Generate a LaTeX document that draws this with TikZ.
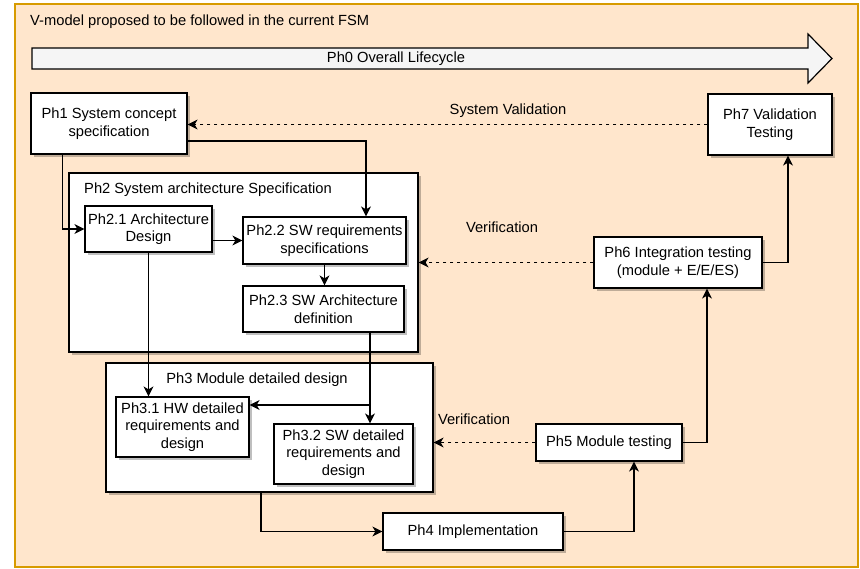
\documentclass[tikz,border=0pt]{standalone}
\usepackage{fontspec}
\setmainfont{Liberation Sans}
\usetikzlibrary{arrows.meta,shadows,calc}
\definecolor{framefill}{HTML}{FFE6CC}
\definecolor{frameline}{HTML}{D79B00}
\definecolor{lifefill}{HTML}{F5F5F5}
\tikzset{
  txt/.style={font=\fontsize{14.7}{17.6}\selectfont, align=center, inner sep=0pt},
  box/.style={txt, draw=black, fill=white, line width=1.2pt,
    drop shadow={shadow xshift=2.5pt, shadow yshift=-2.5pt, opacity=0.25, fill=black}},
  group/.style={box},
  arr/.style={draw=black, line width=1.2pt, -{Stealth[length=10pt, width=10pt, inset=3pt]}},
  darr/.style={arr, dash pattern=on 3.5pt off 3.5pt},
}
\begin{document}
\begin{tikzpicture}[x=1pt, y=-1pt]
\useasboundingbox (0,0) rectangle (860,568);

% outer frame
\draw[fill=framefill, draw=frameline, line width=1.2pt] (15,4) rectangle (858,567);
\node[txt, anchor=west] (title) at (30,22) {V-model proposed to be followed in the current FSM};

% overall lifecycle arrow
\draw[fill=lifefill, draw=black, line width=1.2pt, line join=miter]
  (32,48) -- (808,48) -- (808,34) -- (832,58.5) -- (808,83) -- (808,69) -- (32,69) -- cycle;
\node[txt] (ph0) at (396,58.5) {Ph0 Overall Lifecycle};

% containers
\node[group, minimum width=349pt, minimum height=179pt] (ph2) at (243.5,262.5) {};
\node[txt, anchor=west] (ph2t) at (84,190) {Ph2 System architecture Specification};
\node[group, minimum width=327pt, minimum height=129pt] (ph3) at (269.5,427.5) {};
\node[txt] (ph3t) at (257,380) {Ph3 Module detailed design};

% phase boxes
\node[box, minimum width=156pt, minimum height=61pt] (ph1) at (109,123.5) {Ph1 System concept\\specification};
\node[box, minimum width=124pt, minimum height=61pt] (ph7) at (770,124.5) {Ph7 Validation\\Testing};
\node[box, minimum width=127pt, minimum height=46pt] (ph21) at (148.5,229) {Ph2.1 Architecture\\Design};
\node[box, minimum width=163pt, minimum height=47pt] (ph22) at (324.5,240.5) {Ph2.2 SW requirements\\specifications};
\node[box, minimum width=161pt, minimum height=46pt] (ph23) at (323.5,309) {Ph2.3 SW Architecture\\definition};
\node[box, minimum width=168pt, minimum height=51pt] (ph6) at (678,262.5) {Ph6 Integration testing\\(module + E/E/ES)};
\node[box, minimum width=133pt, minimum height=60pt] (ph31) at (182.5,427) {Ph3.1 HW detailed\\requirements and\\design};
\node[box, minimum width=139pt, minimum height=60pt] (ph32) at (343.5,454) {Ph3.2 SW detailed\\requirements and\\design};
\node[box, minimum width=146pt, minimum height=37pt] (ph5) at (609,442.5) {Ph5 Module testing};
\node[box, minimum width=180pt, minimum height=37pt] (ph4) at (473,531.5) {Ph4 Implementation};

% design flow
\draw[arr] ($(ph1.south west)!0.205!(ph1.south east)$) |- (ph21.west);
\draw[arr] ([yshift=-17.5pt]ph1.east) -| ([xshift=41.5pt]ph22.north);
\draw[arr] (ph21.east |- ph22.west) -- (ph22.west);
\draw[arr] (ph22.south) -- (ph22.south |- ph23.north);
\draw[arr] (ph21.south) -- (ph21.south |- ph31.north);
\path ([xshift=46.5pt]ph23.south) coordinate (b23);
\path ([yshift=22pt]ph31.east) coordinate (t31);
\draw[arr] (b23) -- (b23 |- ph32.north);
\draw[arr] (b23 |- t31) -- (t31);
\draw[arr] ([xshift=-8.5pt]ph3.south) |- (ph4.west);

% test flow
\draw[arr] (ph4.east) -| ([xshift=25pt]ph5.south);
\draw[arr] (ph5.east) -| ([xshift=29pt]ph6.south);
\draw[arr] (ph6.east) -| ([xshift=18pt]ph7.south);

% verification and validation
\draw[darr] (ph7.west) -- (ph7.west -| ph1.east);
\draw[darr] (ph6.west) -- (ph6.west -| ph2.east);
\draw[darr] (ph5.west) -- (ph5.west -| ph3.east);
\node[txt] (lval) at (508,111) {System Validation};
\node[txt] (lver1) at (502,227) {Verification};
\node[txt] (lver2) at (474,419) {Verification};
\end{tikzpicture}
\end{document}
